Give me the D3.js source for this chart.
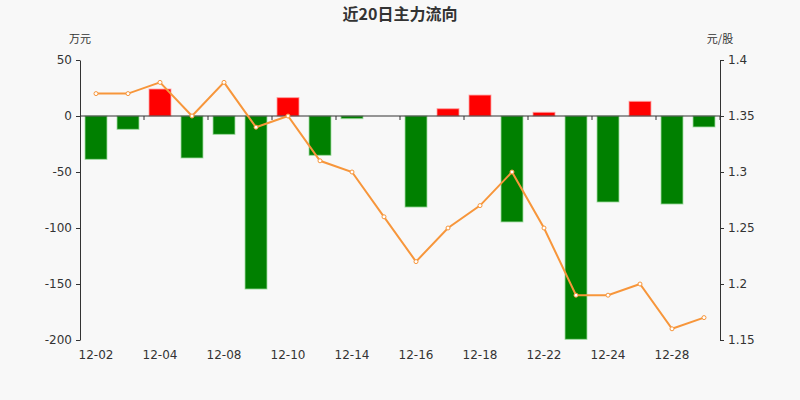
<!DOCTYPE html>
<html>
<head>
<meta charset="utf-8">
<script src="https://cdn.jsdelivr.net/npm/d3@7/dist/d3.min.js"></script>
<style>
  body { margin: 0; background: #f8f8f8; }
  svg { display: block; font-family: "Noto Sans CJK SC", "DejaVu Sans", sans-serif; }
  .axis text { fill: #333; font-size: 12px; font-family: "DejaVu Sans", sans-serif; }
  .axis path, .axis line { stroke: #333; }
</style>
</head>
<body>
<svg id="chart" width="800" height="400"></svg>
<script>
// ── Data ──
const dates = ["12-02", "12-03", "12-04", "12-07", "12-08", "12-09", "12-10", "12-11", "12-14", "12-15",
               "12-16", "12-17", "12-18", "12-21", "12-22", "12-23", "12-24", "12-25", "12-28", "12-29"];
// main net inflow, 万元
const flows = [-38.7, -11.9, 24.1, -37.5, -16.4, -154.5, 16.4, -35.1, -2.4, 0,
               -81.3, 6.5, 18.7, -94.6, 3.3, -199.4, -76.8, 13.1, -78.6, -9.8];
// close price, 元/股
const prices = [1.37, 1.37, 1.38, 1.35, 1.38, 1.34, 1.35, 1.31, 1.30, 1.26,
                1.22, 1.25, 1.27, 1.30, 1.25, 1.19, 1.19, 1.20, 1.16, 1.17];
const leftTicks = [50, 0, -50, -100, -150, -200];
const rightTicks = [1.4, 1.35, 1.3, 1.25, 1.2, 1.15];

// ── Layout ──
const margin = { top: 60, right: 80, bottom: 60, left: 80 };
const W = 800, H = 400;

const svg = d3.select("#chart");

const yL = d3.scaleLinear().domain([-200, 50]).range([H - margin.bottom, margin.top]);
const yR = d3.scaleLinear().domain([1.15, 1.4]).range([H - margin.bottom, margin.top]);

const step = (W - margin.left - margin.right) / dates.length;
const cx = d => margin.left + step * (dates.indexOf(d) + 0.5);

// ── Title ──
svg.append("text")
  .attr("x", W / 2).attr("y", 20)
  .attr("text-anchor", "middle")
  .style("font-size", "16px")
  .style("font-weight", "bold")
  .attr("fill", "#333")
  .text("近20日主力流向");

svg.append("text")
  .attr("x", margin.left).attr("y", 43)
  .attr("text-anchor", "middle")
  .style("font-size", "11px")
  .attr("fill", "#333")
  .text("万元");

svg.append("text")
  .attr("x", W - margin.right).attr("y", 43)
  .attr("text-anchor", "middle")
  .style("font-size", "11px")
  .attr("fill", "#333")
  .text("元/股");

// ── Bars ──
svg.append("g").selectAll("rect")
  .data(dates)
  .join("rect")
  .attr("x", d => cx(d) - 11)
  .attr("width", 22)
  .attr("y", (d, i) => flows[i] >= 0 ? yL(flows[i]) : yL(0))
  .attr("height", (d, i) => Math.abs(yL(flows[i]) - yL(0)))
  .attr("fill", (d, i) => flows[i] >= 0 ? "#ff0000" : "#008000")
  .attr("stroke", (d, i) => flows[i] >= 0 ? "rgba(255,160,160,0.8)" : "rgba(160,220,160,0.8)")
  .attr("stroke-width", 1);

// ── Axes ──
svg.append("g")
  .attr("class", "axis")
  .attr("transform", `translate(${margin.left},0)`)
  .call(d3.axisLeft(yL).tickValues(leftTicks).tickFormat(d => String(d))
    .tickSize(4).tickSizeOuter(0).tickPadding(4));

svg.append("g")
  .attr("class", "axis")
  .attr("transform", `translate(${W - margin.right},0)`)
  .call(d3.axisRight(yR).tickValues(rightTicks).tickFormat(d => String(d))
    .tickSize(4).tickSizeOuter(0).tickPadding(4));

// category axis on the zero line, ticks between every two days
const zeroY = yL(0);
svg.append("line")
  .attr("x1", margin.left).attr("x2", W - margin.right)
  .attr("y1", zeroY).attr("y2", zeroY)
  .attr("stroke", "#333");

const boundaryIdx = d3.range(2, dates.length + 1, 2);
svg.append("g").selectAll("line")
  .data(boundaryIdx)
  .join("line")
  .attr("x1", i => margin.left + step * i)
  .attr("x2", i => margin.left + step * i)
  .attr("y1", zeroY).attr("y2", zeroY + 4)
  .attr("stroke", "#333");

svg.append("g").attr("class", "axis").selectAll("text")
  .data(dates.filter((d, i) => i % 2 === 0))
  .join("text")
  .attr("x", d => cx(d))
  .attr("y", H - margin.bottom + 19)
  .attr("text-anchor", "middle")
  .text(d => d);

// ── Price line ──
const line = d3.line()
  .x((d, i) => cx(dates[i]))
  .y(d => yR(d));

svg.append("path")
  .datum(prices)
  .attr("fill", "none")
  .attr("stroke", "#f7963b")
  .attr("stroke-width", 2)
  .attr("d", line);

svg.append("g").selectAll("circle")
  .data(prices)
  .join("circle")
  .attr("cx", (d, i) => cx(dates[i]))
  .attr("cy", d => yR(d))
  .attr("r", 2)
  .attr("fill", "#fff")
  .attr("stroke", "#f7963b")
  .attr("stroke-width", 1);
</script>
</body>
</html>
